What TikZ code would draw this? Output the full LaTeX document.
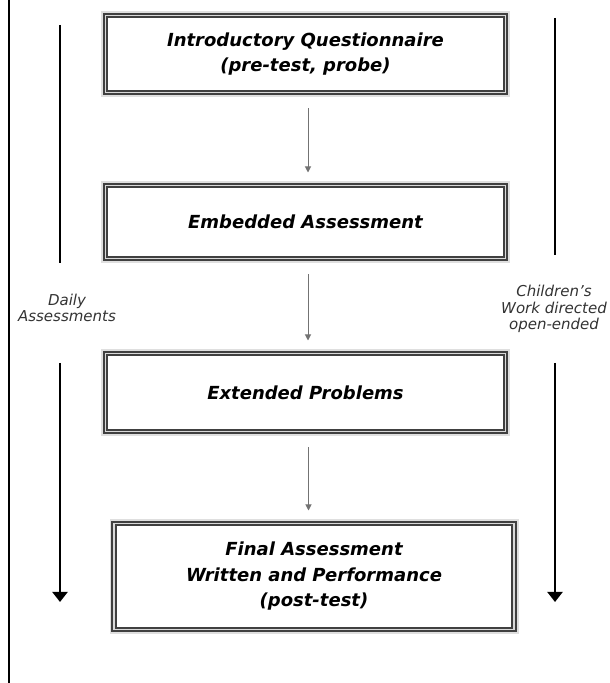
\documentclass[tikz,border=0pt]{standalone}
\usepackage{fontspec}
\setmainfont{DejaVu Sans}
\usepackage{tikz}
\usetikzlibrary{arrows.meta,positioning}

\begin{document}
\begin{tikzpicture}[x=1pt, y=1pt,
        stage/.style={draw=black!75, double=gray!30, double distance=1.6pt, line width=1.8pt, fill=white, preaction={draw=gray!25, line width=9pt}, minimum width=400pt, align=center, inner sep=0pt, outer sep=0pt, font=\fontsize{18}{25.5}\selectfont\bfseries\itshape},
        side/.style={align=center, font=\fontsize{15}{16.5}\selectfont\itshape, text=black!80},
        flow/.style={->, >={Triangle[width=6pt,length=6pt]}, black!55, line width=1pt, shorten <=16pt, shorten >=13pt},
        bigarrow/.style={-{Triangle[width=15pt,length=10pt]}, line width=2pt}
    ]
    \useasboundingbox (0,0) rectangle (610,683);
    \draw[line width=2pt] (9,0) -- (9,683);
    % Etapas
    \node[stage, minimum height=77pt] (intro) at (305.5,629) {Introductory Questionnaire\\(pre-test, probe)};
    \node[stage, minimum height=73pt, below=93pt of intro] (embed) {Embedded Assessment};
    \node[stage, minimum height=78pt, below=95pt of embed] (ext) {Extended Problems};
    \node[stage, minimum height=106pt, below=92pt of ext, xshift=8.5pt] (final) {Final Assessment\\Written and Performance\\(post-test)};
    % Setas
    \draw[flow] ([xshift=2.5pt]intro.south) -- ([xshift=2.5pt]embed.north);
    \draw[flow] ([xshift=2.5pt]embed.south) -- ([xshift=2.5pt]ext.north);
    \draw[flow] ([xshift=3pt]ext.south) -- ([xshift=3pt]ext.south |- final.north);
    % Laterais
    \node[side] (daily) at (67,375) {Daily\\Assessments};
    \node[side] (work) at (554,374) {Children’s\\Work directed\\open-ended};
    \coordinate (dtop) at (60,658);
    \coordinate (dmid) at (60,420);
    \coordinate (dlow) at (60,320);
    \coordinate (dend) at (60,81);
    \coordinate (wtop) at (555,665);
    \coordinate (wmid) at (555,428);
    \coordinate (wlow) at (555,320);
    \coordinate (wend) at (555,81);
    \draw[line width=2pt] (dtop) -- (dmid);
    \draw[bigarrow] (dlow) -- (dend);
    \draw[line width=2pt] (wtop) -- (wmid);
    \draw[bigarrow] (wlow) -- (wend);
\end{tikzpicture}
\end{document}
